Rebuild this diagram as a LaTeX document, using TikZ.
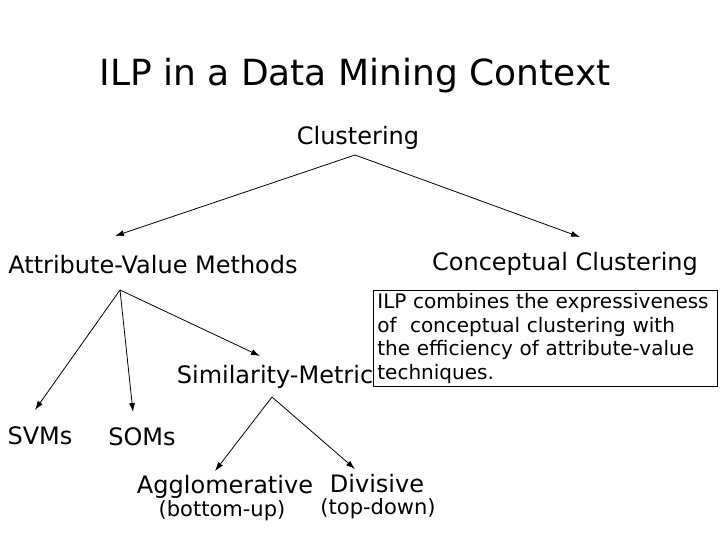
\documentclass[tikz,border=0pt]{standalone}
\usepackage{fontspec}
\usetikzlibrary{arrows.meta}
\setmainfont{DejaVu Sans}
\begin{document}
\begin{tikzpicture}[x=1pt,y=-1pt,
  lbl/.style={inner sep=0pt,font=\fontsize{24}{28}\selectfont},
  sm/.style={inner sep=0pt,font=\fontsize{21}{25}\selectfont},
  arr/.style={-{Latex[length=9pt,width=6pt]},line width=0.8pt}]
\useasboundingbox (0,0) rectangle (720,540);
\node[inner sep=0pt,font=\fontsize{36}{40}\selectfont] (t) at (355,76) {ILP in a Data Mining Context};
\node[lbl] (c) at (358,138) {Clustering};
\node[lbl] (av) at (153,265) {Attribute-Value Methods};
\node[lbl] (cc) at (565,264) {Conceptual Clustering};
\node[lbl] (sim) at (275,377) {Similarity-Metric};
\node[lbl] (svm) at (40,436) {SVMs};
\node[lbl] (som) at (142,437) {SOMs};
\node[lbl] (ag) at (225,487) {Agglomerative};
\node[lbl] (dv) at (377,484) {Divisive};
\node[sm] (bu) at (222,511) {(bottom-up)};
\node[sm] (td) at (378,509) {(top-down)};
\node[draw,line width=0.8pt,align=left,anchor=north west,inner xsep=4pt,inner ysep=2pt,text width=336pt,minimum height=96pt,
  font=\fontsize{20}{23.5}\selectfont] (box) at (373,290)
  {ILP combines the expressiveness\\of~ conceptual clustering with\\the efficiency of attribute-value\\techniques.};
\coordinate (c0) at (355,155);
\coordinate (a0) at (120,290);
\coordinate (s0) at (272,397);
\draw[arr] (c0) -- (115,236) coordinate (e1);
\draw[arr] (c0) -- (580,237) coordinate (e2);
\draw[arr] (a0) -- (35,410) coordinate (e3);
\draw[arr] (a0) -- (133,412) coordinate (e4);
\draw[arr] (a0) -- (260,356) coordinate (e5);
\draw[arr] (s0) -- (215,471) coordinate (e6);
\draw[arr] (s0) -- (355,469) coordinate (e7);
\end{tikzpicture}
\end{document}
